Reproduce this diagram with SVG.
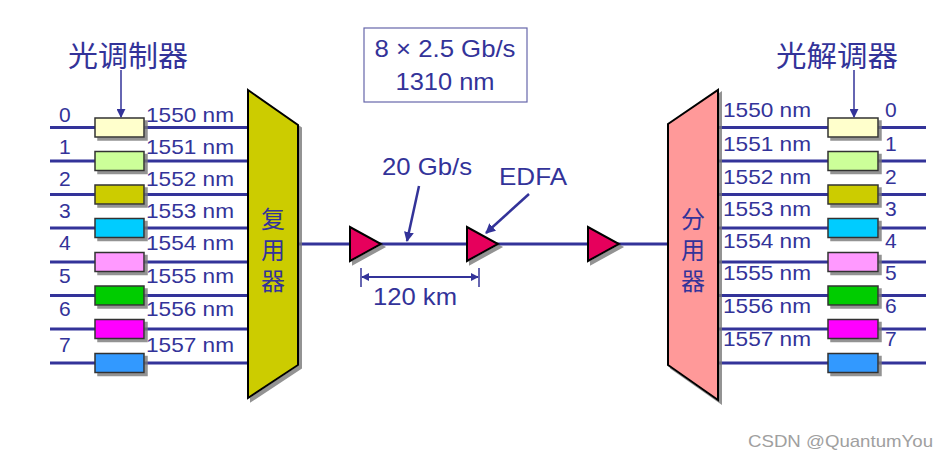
<svg xmlns="http://www.w3.org/2000/svg" width="946" height="462" viewBox="0 0 946 462">
<defs>
<style>
.t{font-family:"Liberation Sans",Arial,sans-serif;fill:#333399}
.c{font-family:"Liberation Sans","Noto Sans CJK SC",sans-serif;fill:#333399}
.lab{font-size:21px}
.big{font-size:24px}
.ln{stroke:#333399;stroke-width:3;fill:none}
.bx{stroke:#333333;stroke-width:1.5;filter:url(#sh)}
.amp{fill:#E6005C;stroke:#000;stroke-width:2;filter:url(#sh)}
.ar{stroke:#333399;fill:none}
</style>
<filter id="sh" x="-20%" y="-20%" width="150%" height="150%">
<feDropShadow dx="3" dy="3" stdDeviation="0.6" flood-color="#777" flood-opacity="0.8"/>
</filter>
<marker id="ah" viewBox="0 0 10 10" refX="9" refY="5" markerWidth="4" markerHeight="4" orient="auto-start-reverse" markerUnits="strokeWidth">
<path d="M0,0 L10,5 L0,10 z" fill="#333399"/>
</marker>
<marker id="ahs" viewBox="0 0 10 10" refX="9" refY="5" markerWidth="6" markerHeight="6" orient="auto-start-reverse" markerUnits="strokeWidth">
<path d="M0,0 L10,5 L0,10 z" fill="#333399"/>
</marker>
</defs>
<rect width="946" height="462" fill="#fff"/>

<g id="connectors">
<!-- left channel lines -->
<path class="ln" d="M50,127.5H248M50,161H248M50,194.5H248M50,228H248M50,262H248M50,295.5H248M50,329H248M50,363H248"/>
<!-- right channel lines -->
<path class="ln" d="M718,127.5H926M718,161H926M718,194.5H926M718,228H926M718,262H926M718,295.5H926M718,329H926M718,363H926"/>
<!-- main fiber -->
<path class="ln" d="M298,244H668"/>
<!-- title arrows -->
<line class="ar" x1="121" y1="70" x2="121" y2="117" stroke-width="1.5" marker-end="url(#ahs)"/>
<line class="ar" x1="854" y1="70" x2="854" y2="117" stroke-width="1.5" marker-end="url(#ahs)"/>
<!-- 20 Gb/s pointer -->
<line class="ar" x1="419" y1="186" x2="407" y2="241" stroke-width="2.5" marker-end="url(#ah)"/>
<!-- EDFA pointer -->
<line class="ar" x1="529" y1="194" x2="486" y2="233" stroke-width="2.5" marker-end="url(#ah)"/>
<!-- dimension -->
<line class="ar" x1="361" y1="268" x2="361" y2="287" stroke-width="1.5" stroke="#555588"/>
<line class="ar" x1="479" y1="268" x2="479" y2="287" stroke-width="1.5" stroke="#555588"/>
<line class="ar" x1="362" y1="277" x2="478" y2="277" stroke-width="2" marker-start="url(#ah)" marker-end="url(#ah)"/>
</g>

<g id="title-mod"><text class="c" x="128" y="67" font-size="29" text-anchor="middle" textLength="120" lengthAdjust="spacingAndGlyphs">光调制器</text></g>
<g id="title-demod"><text class="c" x="837" y="67" font-size="29" text-anchor="middle" textLength="122" lengthAdjust="spacingAndGlyphs">光解调器</text></g>

<g id="modulators">
<rect class="bx" x="95" y="118" width="49" height="19" fill="#FFFFCC"/>
<rect class="bx" x="95" y="151.5" width="49" height="19" fill="#CCFF99"/>
<rect class="bx" x="95" y="185" width="49" height="19" fill="#CCCC00"/>
<rect class="bx" x="95" y="218.5" width="49" height="19" fill="#00CCFF"/>
<rect class="bx" x="95" y="252.5" width="49" height="19" fill="#FF99FF"/>
<rect class="bx" x="95" y="286" width="49" height="19" fill="#00CC00"/>
<rect class="bx" x="95" y="319.5" width="49" height="19" fill="#FF00FF"/>
<rect class="bx" x="95" y="353.5" width="49" height="19" fill="#3399FF"/>
</g>

<g id="left-labels" class="t lab">
<text x="59" y="122">0</text><text x="146" y="122" textLength="88" lengthAdjust="spacingAndGlyphs">1550 nm</text>
<text x="59" y="154">1</text><text x="146" y="154" textLength="88" lengthAdjust="spacingAndGlyphs">1551 nm</text>
<text x="59" y="186">2</text><text x="146" y="186" textLength="88" lengthAdjust="spacingAndGlyphs">1552 nm</text>
<text x="59" y="218">3</text><text x="146" y="218" textLength="88" lengthAdjust="spacingAndGlyphs">1553 nm</text>
<text x="59" y="250">4</text><text x="146" y="250" textLength="88" lengthAdjust="spacingAndGlyphs">1554 nm</text>
<text x="59" y="283">5</text><text x="146" y="283" textLength="88" lengthAdjust="spacingAndGlyphs">1555 nm</text>
<text x="59" y="316">6</text><text x="146" y="316" textLength="88" lengthAdjust="spacingAndGlyphs">1556 nm</text>
<text x="59" y="352">7</text><text x="146" y="352" textLength="88" lengthAdjust="spacingAndGlyphs">1557 nm</text>
</g>

<g id="mux">
<polygon points="248,90 298,125 298,365 248,398" fill="#CCCC00" stroke="#000" stroke-width="2" filter="url(#sh)"/>
<text class="c big" x="273" y="228" text-anchor="middle">复</text>
<text class="c big" x="273" y="259" text-anchor="middle">用</text>
<text class="c big" x="273" y="290" text-anchor="middle">器</text>
</g>

<g id="rate-box">
<rect x="364" y="28" width="163" height="74" fill="none" stroke="#6666AA" stroke-width="1.2"/>
<text class="t big" x="445" y="57" text-anchor="middle" textLength="141" lengthAdjust="spacingAndGlyphs">8 × 2.5 Gb/s</text>
<text class="t big" x="445" y="90" text-anchor="middle" textLength="99" lengthAdjust="spacingAndGlyphs">1310 nm</text>
</g>

<g id="amp1"><polygon class="amp" points="350,227 350,261 381,244"/></g>
<g id="amp2"><polygon class="amp" points="467,227 467,261 498,244"/></g>
<g id="amp3"><polygon class="amp" points="588,227 588,261 619,244"/></g>

<g id="mid-labels">
<text class="t big" x="427" y="175" text-anchor="middle" textLength="90" lengthAdjust="spacingAndGlyphs">20 Gb/s</text>
<text class="t big" x="533" y="185" text-anchor="middle" textLength="68" lengthAdjust="spacingAndGlyphs">EDFA</text>
<text class="t big" x="415" y="305" text-anchor="middle" textLength="84" lengthAdjust="spacingAndGlyphs">120 km</text>
</g>

<g id="demux">
<polygon points="668,124 718,90 718,400 668,365" fill="#FF9999" stroke="#000" stroke-width="2" filter="url(#sh)"/>
<text class="c big" x="693" y="228" text-anchor="middle">分</text>
<text class="c big" x="693" y="259" text-anchor="middle">用</text>
<text class="c big" x="693" y="290" text-anchor="middle">器</text>
</g>

<g id="demodulators">
<rect class="bx" x="828" y="118" width="50" height="19" fill="#FFFFCC"/>
<rect class="bx" x="828" y="151.5" width="50" height="19" fill="#CCFF99"/>
<rect class="bx" x="828" y="185" width="50" height="19" fill="#CCCC00"/>
<rect class="bx" x="828" y="218.5" width="50" height="19" fill="#00CCFF"/>
<rect class="bx" x="828" y="252.5" width="50" height="19" fill="#FF99FF"/>
<rect class="bx" x="828" y="286" width="50" height="19" fill="#00CC00"/>
<rect class="bx" x="828" y="319.5" width="50" height="19" fill="#FF00FF"/>
<rect class="bx" x="828" y="353.5" width="50" height="19" fill="#3399FF"/>
</g>

<g id="right-labels" class="t lab">
<text x="723" y="117" textLength="88" lengthAdjust="spacingAndGlyphs">1550 nm</text><text x="885" y="117">0</text>
<text x="723" y="151" textLength="88" lengthAdjust="spacingAndGlyphs">1551 nm</text><text x="885" y="151">1</text>
<text x="723" y="184" textLength="88" lengthAdjust="spacingAndGlyphs">1552 nm</text><text x="885" y="184">2</text>
<text x="723" y="216" textLength="88" lengthAdjust="spacingAndGlyphs">1553 nm</text><text x="885" y="216">3</text>
<text x="723" y="248" textLength="88" lengthAdjust="spacingAndGlyphs">1554 nm</text><text x="885" y="248">4</text>
<text x="723" y="280" textLength="88" lengthAdjust="spacingAndGlyphs">1555 nm</text><text x="885" y="280">5</text>
<text x="723" y="313" textLength="88" lengthAdjust="spacingAndGlyphs">1556 nm</text><text x="885" y="313">6</text>
<text x="723" y="346" textLength="88" lengthAdjust="spacingAndGlyphs">1557 nm</text><text x="885" y="346">7</text>
</g>

<g id="watermark"><text x="748" y="447" font-family="Liberation Sans,Arial,sans-serif" font-size="17" fill="#A0A0A0" textLength="185" lengthAdjust="spacingAndGlyphs">CSDN @QuantumYou</text></g>
</svg>
